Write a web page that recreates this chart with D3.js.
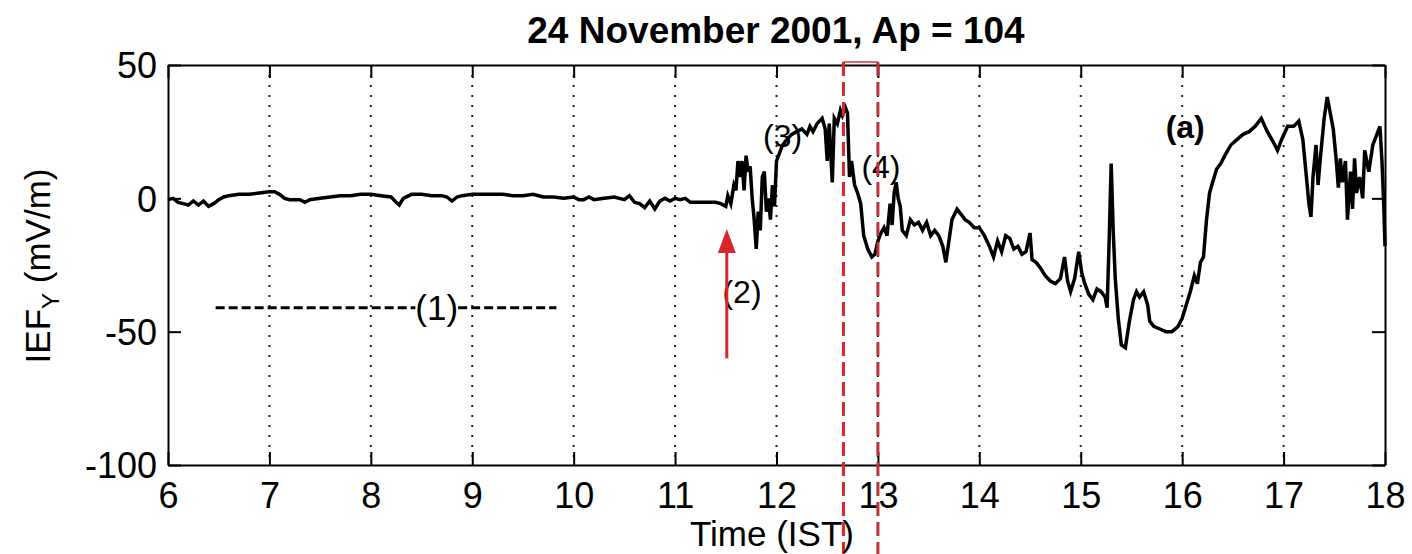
<!DOCTYPE html>
<html>
<head>
<meta charset="utf-8">
<script src="https://cdn.jsdelivr.net/npm/d3@7"></script>
<style>
  body { margin: 0; background: #fff; }
  text { font-family: "Liberation Sans", Arial, sans-serif; fill: #000; }
</style>
</head>
<body>
<div class="chart"></div>
<script>
var width = 1412
var height = 554

// IEF_Y on 24 Nov 2001 (hours IST, mV/m)
var times = [
  6.0, 6.05, 6.1, 6.15, 6.2, 6.25, 6.3, 6.35, 6.4, 6.45, 6.5, 6.55, 6.6, 6.7, 6.8, 6.9,
  7.0, 7.05, 7.1, 7.15, 7.2, 7.3, 7.35, 7.4, 7.5, 7.6, 7.7, 7.8, 7.9,
  8.0, 8.1, 8.2, 8.25, 8.28, 8.32, 8.4, 8.5, 8.6, 8.7, 8.75, 8.8, 8.85, 8.9,
  9.0, 9.1, 9.2, 9.3, 9.4, 9.5, 9.6, 9.7, 9.8, 9.9,
  10.0, 10.05, 10.1, 10.15, 10.2, 10.3, 10.4, 10.5, 10.55, 10.6, 10.65, 10.7, 10.75, 10.8, 10.85, 10.9, 10.95,
  11.0, 11.05, 11.1, 11.15, 11.2, 11.3, 11.4, 11.45, 11.5, 11.52, 11.55, 11.58, 11.6, 11.62, 11.64, 11.66, 11.68,
  11.7, 11.72, 11.74, 11.76, 11.78, 11.8, 11.82, 11.84, 11.86, 11.88, 11.9, 11.92, 11.94, 11.96, 11.98,
  12.0, 12.03, 12.06, 12.1, 12.15, 12.2, 12.25, 12.3, 12.33, 12.36, 12.4, 12.45, 12.48, 12.5, 12.52, 12.55, 12.57,
  12.6, 12.63, 12.65, 12.68, 12.7, 12.72, 12.74, 12.77, 12.8, 12.83, 12.86, 12.9, 12.94, 12.97,
  13.0, 13.03, 13.06, 13.09, 13.12, 13.14, 13.16, 13.18, 13.2, 13.22, 13.24, 13.28, 13.32, 13.36, 13.4, 13.44, 13.48,
  13.52, 13.56, 13.6, 13.64, 13.67, 13.7, 13.73, 13.78, 13.82, 13.86, 13.9, 13.95,
  14.0, 14.05, 14.1, 14.14, 14.18, 14.22, 14.26, 14.3, 14.34, 14.38, 14.42, 14.46, 14.5, 14.52, 14.56, 14.6, 14.65,
  14.7, 14.75, 14.8, 14.84, 14.87, 14.9, 14.94, 14.98,
  15.01, 15.04, 15.08, 15.12, 15.16, 15.2, 15.24, 15.26, 15.28, 15.3, 15.32, 15.34, 15.37, 15.4, 15.44, 15.48,
  15.52, 15.55, 15.58, 15.62, 15.66, 15.68, 15.72, 15.78, 15.84, 15.9, 15.96,
  16.0, 16.04, 16.08, 16.12, 16.15, 16.18, 16.21, 16.24, 16.27, 16.3, 16.34, 16.38, 16.42, 16.48, 16.54, 16.6, 16.66,
  16.72, 16.78, 16.84, 16.9, 16.94, 16.98,
  17.04, 17.1, 17.15, 17.19, 17.22, 17.25, 17.27, 17.29, 17.32, 17.34, 17.36, 17.4, 17.43, 17.46, 17.49, 17.52, 17.54,
  17.56, 17.58, 17.61, 17.63, 17.66, 17.68, 17.7, 17.72, 17.75, 17.78, 17.8, 17.84, 17.88, 17.92, 17.95, 17.97, 17.99, 18.0
]
var iefY = [
  -0.5, 0, -1.5, -2, -2.5, -1, -2.5, -1, -3, -2, -0.5, 0.5, 1, 1.5, 1.5, 2,
  2.5, 2.5, 1.5, 0, -0.5, -0.5, -1.5, -0.5, 0, 0.5, 1, 1, 1.5,
  1.5, 1, 0.5, -1.5, -2.5, 0, 1.5, 1.5, 1, 1, 0.5, -1, 0.5, 1,
  1.5, 1.5, 1.5, 1.5, 1, 1, 1.5, 0.5, 0.5, 0,
  0.5, -0.5, -0.5, 0.5, -0.5, 0, 0.5, -0.5, 1, -1.5, -2, -3.5, -1, -4, -1, 0, -1,
  0, -0.5, 0, -1.5, -1.5, -1.5, -1.5, -2, -3, 1, -2, 5, 3, 14, 8, 14, 3,
  16, 10, 12, 0, -8, -19, -5, -12, 8, 10, -5, 0, -8, 5, -3,
  14, 17, 20, 22, 24, 25, 26, 24, 27, 25, 28, 30, 26, 14, 28, 6, 30,
  28, 33, 31, 34, 32, 8, 14, 5, 2, -2, -14, -19, -22, -21,
  -16, -13, -11, -14, -2, -10, 2, 6, 0, -3, -12, -14, -8, -10, -9, -12, -9,
  -14, -12, -14, -18, -24, -16, -8, -4, -6, -8, -9, -11,
  -11, -14, -18, -22, -16, -20, -14, -15, -19, -18, -21, -20, -13, -23, -24, -26, -29,
  -31, -32, -30, -22, -31, -35, -30, -20,
  -28, -32, -36, -38, -34, -35, -37, -41, -16, 13, -12, -30, -45, -55, -56, -46,
  -38, -35, -37, -35, -40, -46, -48, -49, -50, -50, -48,
  -45, -40, -35, -29, -32, -24, -22, -8, 2, 6, 11, 13, 16, 20, 22, 24, 25,
  27, 30, 25, 21, 18, 22,
  27, 27, 29, 22, 10, -2, -7, 8, 20, 5, 14, 30, 38, 32, 26, 14, 4,
  15, 6, 14, -8, 10, -4, 15, 2, 8, 0, 18, 10, 20, 24, 27, 14, -5, -18
]

var xTicks = [6, 7, 8, 9, 10, 11, 12, 13, 14, 15, 16, 17, 18]
var yTicks = [50, 0, -50, -100]

// annotation anchors in data units
var markLabels = [
  { text: '(2)', t: 11.66, v: -35, bold: false },
  { text: '(3)', t: 12.06, v: 23.5, bold: false },
  { text: '(4)', t: 13.03, v: 12, bold: false },
  { text: '(a)', t: 16.03, v: 27, bold: true }
]
var quietStart = 6.47, quietLabel = 8.65, quietEnd = 9.83   // "----(1)----" quiet period
var quietLevel = -41
var onsetTime = 11.51          // red arrow
var windowTimes = [12.66, 13.0] // red dashed box

var margin = { top: 65, right: 27, bottom: 89, left: 168 }
var w = width - margin.left - margin.right
var h = height - margin.top - margin.bottom

var svg = d3.select('.chart').append('svg')
  .attr('width', width)
  .attr('height', height)

var x = d3.scaleLinear().domain([6, 18]).range([0, w])
var y = d3.scaleLinear().domain([-100, 50]).range([h, 0])

var g = svg.append('g').attr('transform', 'translate(' + margin.left + ',' + margin.top + ')')

// dotted hour grid
g.selectAll('.grid')
  .data(xTicks.slice(1, -1))
  .enter()
  .append('line')
  .attr('x1', function (d) { return x(d) })
  .attr('x2', function (d) { return x(d) })
  .attr('y1', 0)
  .attr('y2', h)
  .attr('stroke', '#222')
  .attr('stroke-width', 2)
  .attr('stroke-dasharray', '2,8')

// axes, ticks pointing inward on all four sides
function styleAxis(sel) {
  sel.select('.domain').attr('stroke', '#000').attr('stroke-width', 2)
  sel.selectAll('.tick line').attr('stroke', '#000').attr('stroke-width', 2)
}
var plain = function (d) { return String(d) }

var xb = g.append('g').attr('transform', 'translate(0,' + h + ')')
  .call(d3.axisBottom(x).tickValues(xTicks).tickFormat(plain).tickSizeInner(-13).tickSizeOuter(0).tickPadding(12))
styleAxis(xb)
xb.selectAll('text').attr('font-size', 36).attr('dy', '0.85em')

var xt = g.append('g')
  .call(d3.axisTop(x).tickValues(xTicks).tickFormat('').tickSizeInner(-13).tickSizeOuter(0))
styleAxis(xt)

var yl = g.append('g')
  .call(d3.axisLeft(y).tickValues(yTicks).tickFormat(plain).tickSizeInner(-13).tickSizeOuter(0).tickPadding(11))
styleAxis(yl)
yl.selectAll('text').attr('font-size', 36).attr('dy', '0.36em')

var yr = g.append('g').attr('transform', 'translate(' + w + ',0)')
  .call(d3.axisRight(y).tickValues(yTicks).tickFormat('').tickSizeInner(-13).tickSizeOuter(0))
styleAxis(yr)

// data trace
var line = d3.line()
  .x(function (d) { return x(d[0]) })
  .y(function (d) { return y(d[1]) })

g.append('path')
  .datum(d3.zip(times, iefY))
  .attr('d', line)
  .attr('fill', 'none')
  .attr('stroke', '#000')
  .attr('stroke-width', 3.5)
  .attr('stroke-linejoin', 'miter')

// quiet period marker
var qText = g.append('text')
  .attr('x', x(quietLabel))
  .attr('y', y(quietLevel))
  .attr('dy', '0.35em')
  .attr('text-anchor', 'middle')
  .attr('font-size', 35)
  .text('(1)')
var qw = qText.node().getComputedTextLength() / 2
g.append('line')
  .attr('x1', x(quietStart)).attr('x2', x(quietLabel) - qw)
  .attr('y1', y(quietLevel)).attr('y2', y(quietLevel))
  .attr('stroke', '#000').attr('stroke-width', 3).attr('stroke-dasharray', '9,4')
g.append('line')
  .attr('x1', x(quietLabel) + qw).attr('x2', x(quietEnd))
  .attr('y1', y(quietLevel)).attr('y2', y(quietLevel))
  .attr('stroke', '#000').attr('stroke-width', 3).attr('stroke-dasharray', '9,4')

// numbered labels
g.selectAll('.mark')
  .data(markLabels)
  .enter()
  .append('text')
  .attr('x', function (d) { return x(d.t) })
  .attr('y', function (d) { return y(d.v) })
  .attr('dy', '0.35em')
  .attr('text-anchor', 'middle')
  .attr('font-size', 32)
  .attr('font-weight', function (d) { return d.bold ? 'bold' : 'normal' })
  .text(function (d) { return d.text })

// red onset arrow
var red = '#d8262a'
g.append('line')
  .attr('x1', x(onsetTime)).attr('x2', x(onsetTime))
  .attr('y1', y(-60)).attr('y2', y(-18))
  .attr('stroke', red).attr('stroke-width', 3)
g.append('path')
  .attr('d', 'M' + x(onsetTime) + ',' + y(-11.5) +
    'L' + (x(onsetTime) - 9) + ',' + y(-20.5) +
    'L' + (x(onsetTime) + 9) + ',' + y(-20.5) + 'Z')
  .attr('fill', red)

// red dashed window
g.selectAll('.win')
  .data(windowTimes)
  .enter()
  .append('line')
  .attr('x1', function (d) { return x(d) })
  .attr('x2', function (d) { return x(d) })
  .attr('y1', -3)
  .attr('y2', height - margin.top)
  .attr('stroke', function (d, i) { return i ? '#b8323a' : red })
  .attr('stroke-width', 3)
  .attr('stroke-dasharray', '14,6')
g.append('line')
  .attr('x1', x(windowTimes[0])).attr('x2', x(windowTimes[1]))
  .attr('y1', -3).attr('y2', -3)
  .attr('stroke', red).attr('stroke-width', 2).attr('stroke-opacity', 0.7)

// titles
svg.append('text')
  .attr('x', 776)
  .attr('y', 43)
  .attr('text-anchor', 'middle')
  .attr('font-size', 37)
  .attr('font-weight', 'bold')
  .text('24 November 2001, Ap = 104')

svg.append('text')
  .attr('x', 772)
  .attr('y', 546)
  .attr('text-anchor', 'middle')
  .attr('font-size', 35)
  .text('Time (IST)')

var ylab = svg.append('text')
  .attr('transform', 'translate(50,' + (margin.top + h / 2 + 1) + ') rotate(-90)')
  .attr('text-anchor', 'middle')
  .attr('font-size', 35)
ylab.append('tspan').text('IEF')
ylab.append('tspan').attr('font-size', 24).attr('dy', 9).text('Y')
ylab.append('tspan').attr('dy', -9).text(' (mV/m)')
</script>
</body>
</html>
